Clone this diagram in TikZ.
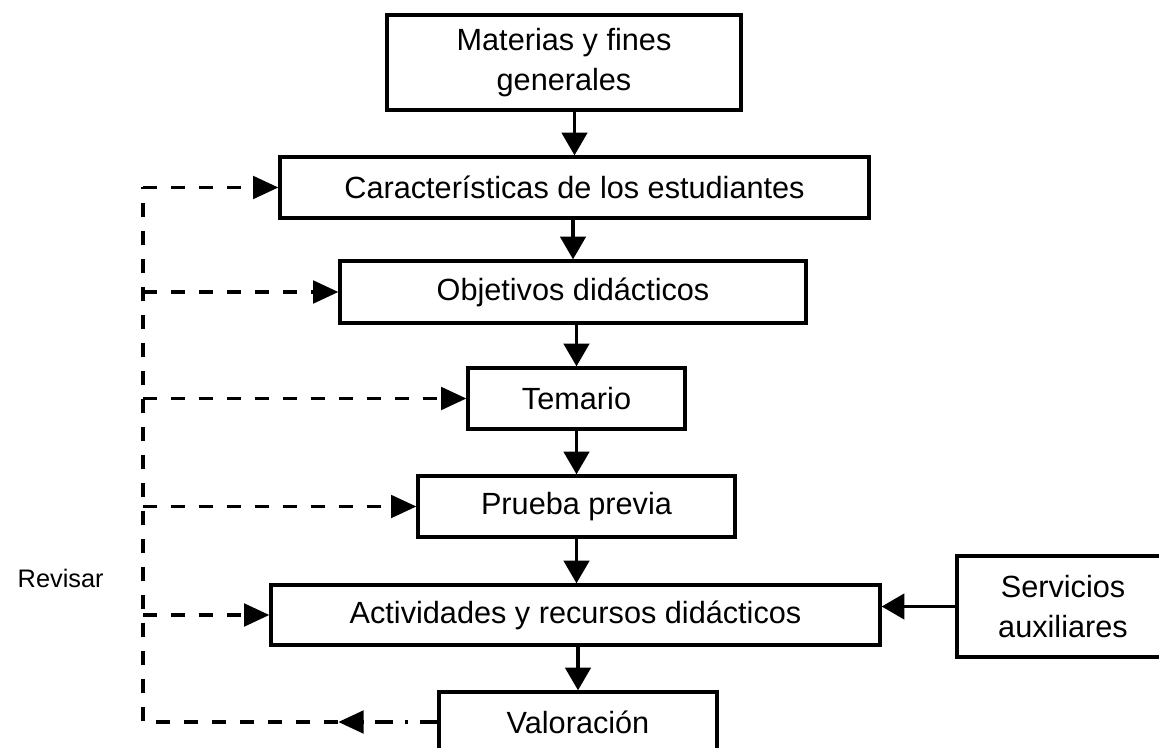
\documentclass[tikz,border=0pt]{standalone}
\usepackage{fontspec}
\setmainfont{Liberation Sans}
\usepackage{tikz}
\usetikzlibrary{positioning,calc,arrows.meta}
\newlength{\upx}
\setlength{\upx}{0.75pt}
\tikzset{
    caja/.style={rectangle, draw=black, line width=2.5pt, fill=white, align=center, inner sep=0pt, font=\fontsize{23}{30}\selectfont},
    flecha/.style={draw=black, line width=2.6pt, -{Triangle[length=17pt,width=19pt]}}
}

\begin{document}
\begin{tikzpicture}[
        x=\upx, y=-\upx,
        % --- STYLE CHUNG ---
        revisa/.style={
            draw=black,
            line width=2.5pt,
            dash pattern=on 10.5pt off 10.5pt,
            -{Triangle[length=19pt,width=17pt]}
        },
        % Linea de la valoracion (raya - punto)
        rayapunto/.style={
            draw=black,
            line width=2.5pt,
            dash pattern=on 13pt off 9pt on 2.5pt off 9pt,
            -{Triangle[length=19pt,width=17pt]}
        },
        linearev/.style={
            draw=black,
            line width=2.5pt,
            dash pattern=on 10.5pt off 10.5pt
        }
    ]
        \useasboundingbox (0,0) rectangle (1159,748);

        % --- CAJAS ---
        \node[caja, minimum width=354\upx, minimum height=95\upx] (b1) at (564,62.5) {Materias y fines\\generales};
        \node[caja, minimum width=589\upx, minimum height=61\upx] (b2) at (574.5,187.5) {Características de los estudiantes};
        \node[caja, minimum width=466\upx, minimum height=62\upx] (b3) at (573,292) {Objetivos didácticos};
        \node[caja, minimum width=217\upx, minimum height=61\upx] (b4) at (576.5,398.5) {Temario};
        \node[caja, minimum width=317\upx, minimum height=61\upx] (b5) at (576.5,506.5) {Prueba previa};
        \node[caja, minimum width=609\upx, minimum height=60\upx] (b6) at (575.5,615) {Actividades y recursos didácticos};
        \node[caja, minimum width=278\upx, minimum height=60\upx] (b7) at (578,722) {Valoración};
        \node[caja, minimum width=212\upx, minimum height=101\upx] (srv) at (1063,606.5) {Servicios\\auxiliares};

        \node[anchor=base west, font=\fontsize{19}{23}\selectfont] (rev) at (13,587) {Revisar};

        % --- FLECHAS ---
        \draw[flecha] (b1.south -| b2.north) -- (b2.north);
        \draw[flecha] (b2.south -| b3.north) -- (b3.north);
        \draw[flecha] (b3.south -| b4.north) -- (b4.north);
        \draw[flecha] (b4.south) -- (b5.north);
        \draw[flecha] (b5.south) -- (b6.north -| b5.south);
        \draw[flecha] (b6.south -| b7.north) -- (b7.north);
        \draw[flecha] (srv.west) -- (b6.east |- srv.west);

        % --- REVISAR (lazo de vuelta) ---
        \coordinate (lomo) at (143,188);
        \coordinate (vpunta) at ($(b7.west)+(-99,0)$);
        \draw[rayapunto] (b7.west) -- (vpunta);
        \draw[linearev] (vpunta) -- (lomo |- vpunta) -- (lomo |- b2.west);
        \foreach \caja in {b2, b3, b4, b5, b6} {
            \draw[revisa] (lomo |- \caja.west) -- (\caja.west);
        }

    \end{tikzpicture}
\end{document}
